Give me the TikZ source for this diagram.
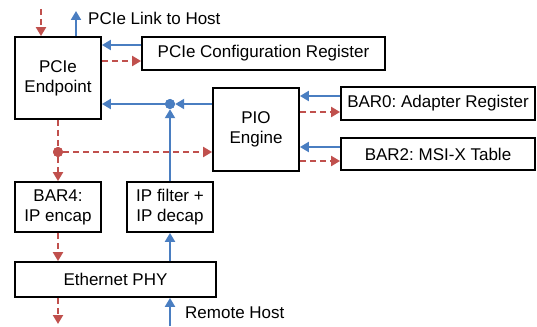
\documentclass[tikz,border=0pt]{standalone}
\usepackage{fontspec}
\setmainfont{Liberation Sans}
\frenchspacing
\usetikzlibrary{arrows.meta}
\definecolor{bl}{RGB}{74,126,193}
\definecolor{rd}{RGB}{192,80,77}
\begin{document}
\begin{tikzpicture}[x=1pt,y=-1pt,
 box/.style={draw=black,line width=1.8pt,rectangle,inner sep=0pt,align=center,font=\fontsize{17}{20}\selectfont},
 barr/.style={draw=bl,line width=2pt,-{Triangle[length=9pt,width=10pt]}},
 bline/.style={draw=bl,line width=2pt},
 rarr/.style={draw=rd,line width=2pt,dash pattern=on 6pt off 4pt,-{Triangle[length=9pt,width=10pt]}},
 rline/.style={draw=rd,line width=2pt,dash pattern=on 6pt off 4pt},
 lbl/.style={font=\fontsize{17}{20}\selectfont,inner sep=0pt},
 bdotst/.style={circle,fill=bl,inner sep=0pt,minimum size=10pt},
 rdotst/.style={circle,fill=rd,inner sep=0pt,minimum size=10pt}]
\useasboundingbox (0,0) rectangle (537,326);
\node[box,minimum width=86pt,minimum height=82pt] (ep) at (58,78) {PCIe\\Endpoint};
\node[box,minimum width=243pt,minimum height=33pt] (cfg) at (263.5,53.5) {PCIe Configuration Register};
\node[box,minimum width=86pt,minimum height=83pt] (pio) at (256,129.5) {PIO\\Engine};
\node[box,minimum width=194pt,minimum height=33pt] (bar0) at (438,103.5) {BAR0: Adapter Register};
\node[box,minimum width=194pt,minimum height=32pt] (bar2) at (438,154) {BAR2: MSI-X Table};
\node[box,minimum width=86pt,minimum height=50pt] (bar4) at (58,207) {BAR4:\\IP encap};
\node[box,minimum width=86pt,minimum height=50pt] (ipf) at (170,207) {IP filter +\\IP decap};
\node[box,minimum width=201pt,minimum height=35pt] (phy) at (115.5,279.5) {Ethernet PHY};
\node[bdotst] (bdot) at (170,104) {};
\node[rdotst] (rdot) at (58,152) {};
\coordinate (rtop) at (41,9);
\coordinate (btop) at (76,11);
\coordinate (rbot) at (58,324);
\coordinate (bbot) at (170,326);
\node[lbl,anchor=base west] (link) at (88,25) {PCIe Link to Host};
\node[lbl,anchor=base west] (remote) at (185,318) {Remote Host};
% top
\draw[rarr] (rtop) -- (rtop |- ep.north);
\draw[barr] (btop |- ep.north) -- (btop);
% config register
\draw[barr] (cfg.west |- 0,45) -- (ep.east |- 0,45);
\draw[rarr] (ep.east |- 0,61) -- (cfg.west |- 0,61);
% PIO to endpoint via blue dot
\draw[barr] (pio.west |- bdot) -- (bdot.east);
\draw[barr] (bdot) -- (ep.east |- bdot);
\draw[barr] (ipf.north) -- (bdot.south);
% BARs
\draw[barr] (bar0.west |- 0,96) -- (pio.east |- 0,96);
\draw[rarr] (pio.east |- 0,112) -- (bar0.west |- 0,112);
\draw[barr] (bar2.west |- 0,147) -- (pio.east |- 0,147);
\draw[rarr] (pio.east |- 0,161) -- (bar2.west |- 0,161);
% red path
\draw[rline] (ep.south) -- (rdot);
\draw[rarr] (rdot) -- (pio.west |- rdot);
\draw[rarr] (rdot) -- (bar4.north);
\draw[rarr] (bar4.south) -- (bar4.south |- phy.north);
\draw[rarr] (rdot |- phy.south) -- (rbot);
% blue bottom
\draw[barr] (ipf.south |- phy.north) -- (ipf.south);
\draw[barr] (bbot) -- (bbot |- phy.south);
\node[bdotst] at (bdot) {};
\node[rdotst] at (rdot) {};
\end{tikzpicture}
\end{document}
